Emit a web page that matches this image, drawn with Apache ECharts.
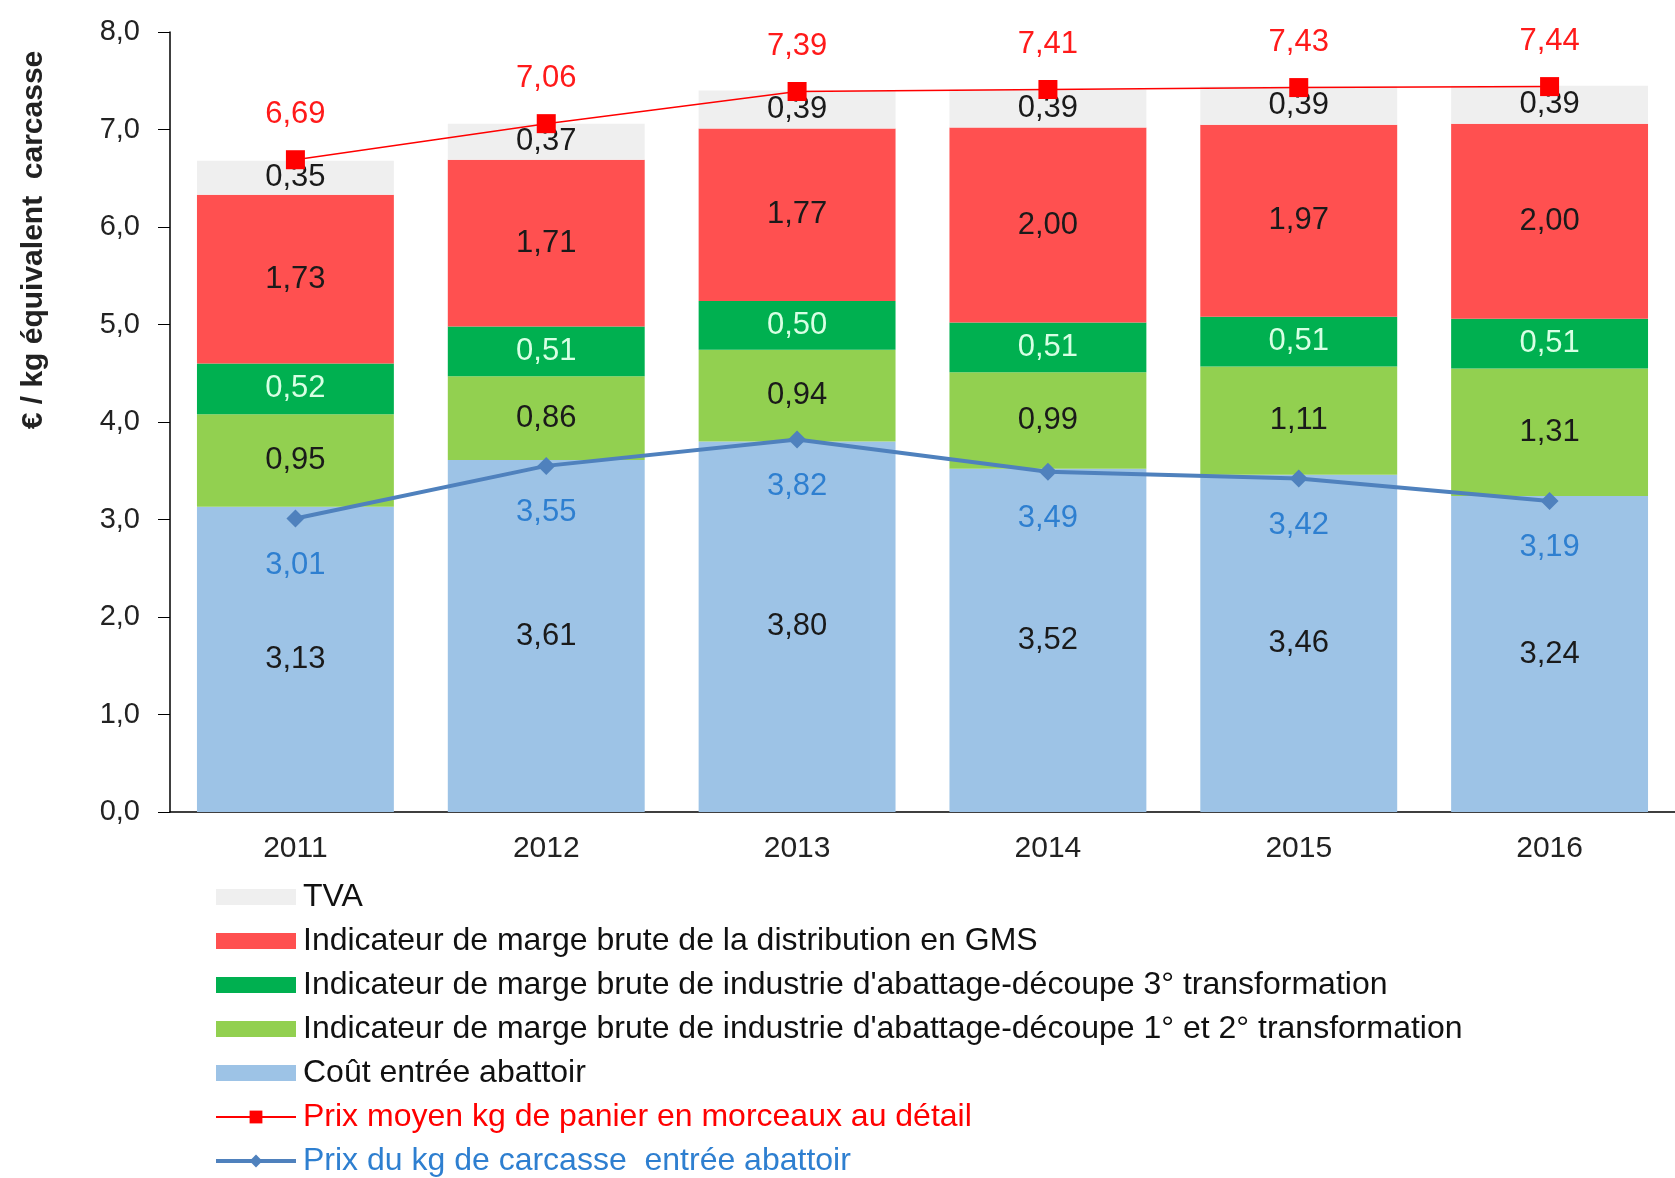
<!DOCTYPE html>
<html>
<head>
<meta charset="utf-8">
<script src="https://cdn.jsdelivr.net/npm/echarts@6/dist/echarts.min.js"></script>
<style>
  html, body { margin: 0; padding: 0; background: #fff; }
  #chart { width: 1675px; height: 1178px; }
</style>
</head>
<body>
<div id="chart"></div>
<script>
// données
const years = ['2011', '2012', '2013', '2014', '2015', '2016']
const coutEntree = [3.13, 3.61, 3.80, 3.52, 3.46, 3.24]
const marge12 = [0.95, 0.86, 0.94, 0.99, 1.11, 1.31]
const marge3 = [0.52, 0.51, 0.50, 0.51, 0.51, 0.51]
const margeGMS = [1.73, 1.71, 1.77, 2.00, 1.97, 2.00]
const tva = [0.35, 0.37, 0.39, 0.39, 0.39, 0.39]
const prixDetail = [6.69, 7.06, 7.39, 7.41, 7.43, 7.44]
const prixCarcasse = [3.01, 3.55, 3.82, 3.49, 3.42, 3.19]

const names = {
  tva: 'TVA',
  gms: 'Indicateur de marge brute de la distribution en GMS',
  m3: "Indicateur de marge brute de industrie d'abattage-découpe 3° transformation",
  m12: "Indicateur de marge brute de industrie d'abattage-découpe 1° et 2° transformation",
  cout: 'Coût entrée abattoir',
  detail: 'Prix moyen kg de panier en morceaux au détail',
  carcasse: 'Prix du kg de carcasse  entrée abattoir'
}

const FONT = '"Liberation Sans", Arial, sans-serif'
const fmt = v => v.toFixed(2).replace('.', ',')

function barSeries(name, data, color, labelColor) {
  return {
    name,
    type: 'bar',
    stack: 'total',
    data,
    barCategoryGap: '21.5%',
    itemStyle: { color },
    label: {
      show: true,
      position: 'inside',
      color: labelColor,
      fontFamily: FONT,
      fontSize: 31,
      formatter: p => fmt(p.value)
    }
  }
}

const chart = echarts.init(document.getElementById('chart'))

chart.setOption({
  backgroundColor: '#fff',
  animation: false,
  textStyle: { fontFamily: FONT },
  grid: { left: 170, top: 32, width: 1528, bottom: 366 },
  graphic: [{
    type: 'text',
    x: 34,
    y: 240,
    rotation: Math.PI / 2,
    style: {
      text: '€ / kg équivalent  carcasse',
      fontFamily: FONT,
      fontSize: 30,
      fontWeight: 'bold',
      fill: '#222',
      align: 'center',
      verticalAlign: 'middle'
    }
  }],
  legend: {
    orient: 'vertical',
    left: 214,
    top: 881,
    height: 340,
    padding: 0,
    itemWidth: 80,
    itemHeight: 16,
    itemGap: 12,
    textStyle: { fontFamily: FONT, fontSize: 32, lineHeight: 28, color: '#111', padding: [0, 0, 0, 2] },
    data: [
      { name: names.tva, icon: 'rect' },
      { name: names.gms, icon: 'rect' },
      { name: names.m3, icon: 'rect' },
      { name: names.m12, icon: 'rect' },
      { name: names.cout, icon: 'rect' },
      { name: names.detail, textStyle: { color: '#ff0000' } },
      { name: names.carcasse, lineStyle: { width: 4 }, textStyle: { color: '#2e7fd0' } }
    ]
  },
  xAxis: {
    type: 'category',
    data: years,
    axisLine: { lineStyle: { color: '#000', width: 1.5 } },
    axisTick: { show: false },
    axisLabel: { color: '#222', fontSize: 30, margin: 22 }
  },
  yAxis: {
    type: 'value',
    min: 0,
    max: 8,
    interval: 1,
    axisLine: { show: true, lineStyle: { color: '#000', width: 1.5 } },
    axisTick: { show: true, length: 12, lineStyle: { color: '#000' } },
    splitLine: { show: false },
    axisLabel: {
      color: '#222',
      fontSize: 29,
      margin: 30,
      formatter: v => v.toFixed(1).replace('.', ',')
    }
  },
  series: [
    barSeries(names.cout, coutEntree, '#9dc3e6', '#1a1a1a'),
    barSeries(names.m12, marge12, '#92d050', '#1a1a1a'),
    barSeries(names.m3, marge3, '#00b050', '#d8ffe4'),
    barSeries(names.gms, margeGMS, '#ff5050', '#1a1a1a'),
    barSeries(names.tva, tva, '#efefef', '#1a1a1a'),
    {
      name: names.detail,
      type: 'line',
      data: prixDetail,
      z: 5,
      symbol: 'rect',
      symbolSize: 19,
      lineStyle: { color: '#ff0000', width: 1.5 },
      itemStyle: { color: '#ff0000' },
      label: {
        show: true,
        position: 'top',
        distance: 20,
        color: '#ff1a1a',
        fontSize: 31,
        formatter: p => fmt(p.value)
      }
    },
    {
      name: names.carcasse,
      type: 'line',
      data: prixCarcasse,
      z: 5,
      symbol: 'diamond',
      symbolSize: 18,
      lineStyle: { color: '#4f81bd', width: 4 },
      itemStyle: { color: '#4f81bd' },
      label: {
        show: true,
        position: 'bottom',
        distance: 22,
        color: '#2e7fd0',
        fontSize: 31,
        formatter: p => fmt(p.value)
      }
    }
  ]
})
</script>
</body>
</html>
